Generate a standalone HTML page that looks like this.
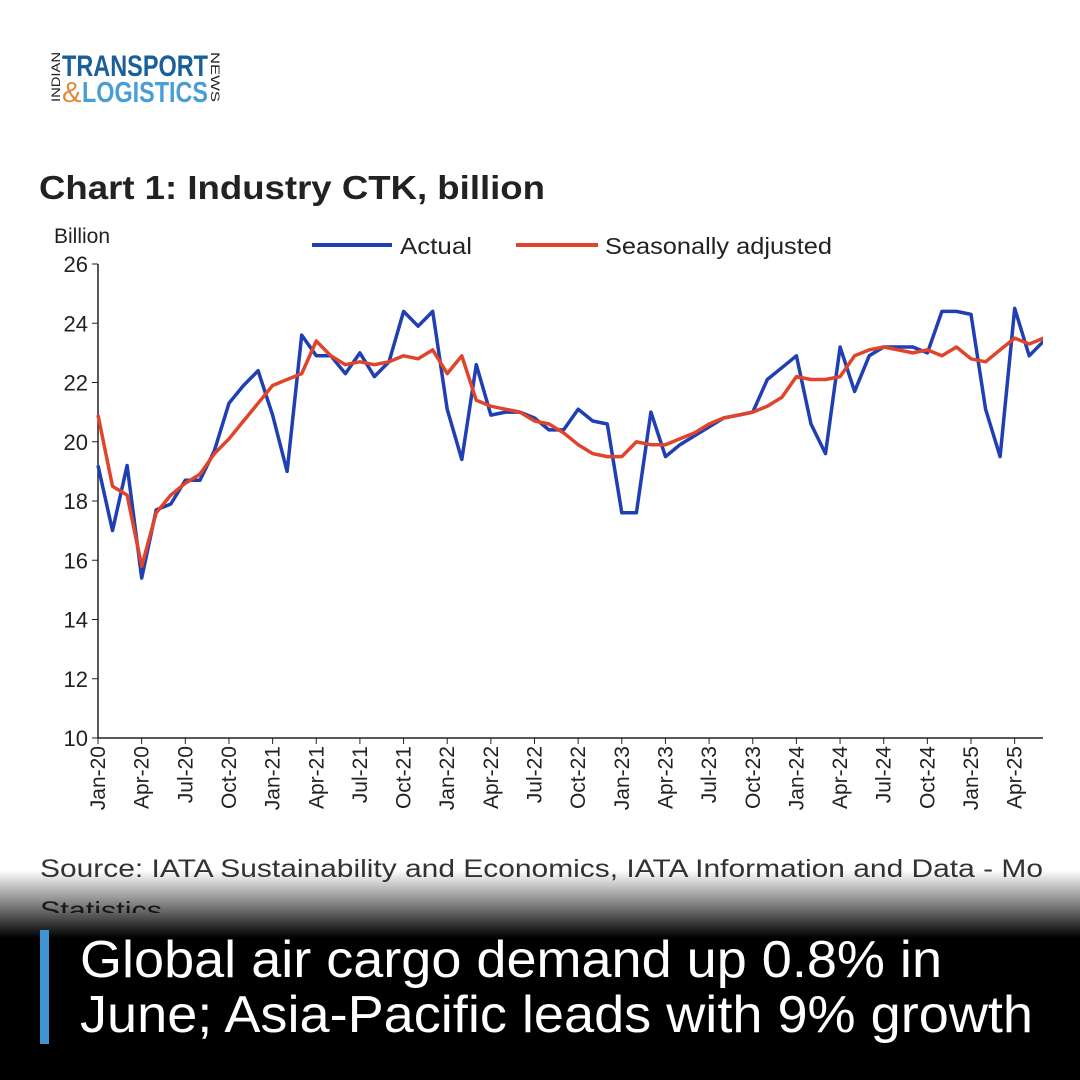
<!DOCTYPE html>
<html><head><meta charset="utf-8"><style>
html,body{margin:0;padding:0;width:1080px;height:1080px;overflow:hidden;background:#fff;font-family:"Liberation Sans",sans-serif}
.grad{position:absolute;left:0;top:870px;width:1080px;height:210px;background:linear-gradient(rgba(0,0,0,0) 0px,rgba(0,0,0,0.55) 38px,#000 68px,#000 100%);}
</style></head><body>
<svg id="s" width="1080" height="1080" style="position:absolute;left:0;top:0" xmlns="http://www.w3.org/2000/svg">
<text x="60" y="102" transform="rotate(-90 60 102)" font-size="12" fill="#222" textLength="50" lengthAdjust="spacingAndGlyphs">INDIAN</text>
<text x="62" y="76" font-weight="bold" font-size="30" fill="#1a5f9a" textLength="146" lengthAdjust="spacingAndGlyphs">TRANSPORT</text>
<text x="62" y="102" font-size="29" fill="#e08a3a">&amp;</text>
<text x="82" y="102" font-weight="bold" font-size="29" fill="#4a9ed6" textLength="126" lengthAdjust="spacingAndGlyphs">LOGISTICS</text>
<text x="211" y="52" transform="rotate(90 211 52)" font-size="12" fill="#222" textLength="50" lengthAdjust="spacingAndGlyphs">NEWS</text>
<text x="39" y="199" font-weight="bold" font-size="33" fill="#222" textLength="506" lengthAdjust="spacingAndGlyphs">Chart 1: Industry CTK, billion</text>
<text x="54" y="243" font-size="21" fill="#222">Billion</text>
<line x1="312" y1="245" x2="392" y2="245" stroke="#1f3fb3" stroke-width="4"/>
<text x="400" y="254" font-size="23" fill="#222" textLength="72" lengthAdjust="spacingAndGlyphs">Actual</text>
<line x1="516" y1="245" x2="598" y2="245" stroke="#e0452c" stroke-width="4"/>
<text x="605" y="254" font-size="23" fill="#222" textLength="227" lengthAdjust="spacingAndGlyphs">Seasonally adjusted</text>
<g id="ax"></g>
<text x="40" y="877" font-size="25" fill="#333" textLength="1003" lengthAdjust="spacingAndGlyphs">Source: IATA Sustainability and Economics, IATA Information and Data - Mo</text>
<clipPath id="st"><rect x="0" y="880" width="300" height="33"/></clipPath>
<text x="40" y="919" font-size="25" fill="#333" textLength="122" lengthAdjust="spacingAndGlyphs" clip-path="url(#st)">Statistics</text>
</svg>
<div class="grad"></div>
<div style="position:absolute;left:40px;top:930px;width:9px;height:114px;background:#3f95d4"></div>
<svg width="1080" height="1080" style="position:absolute;left:0;top:0">
<text x="80" y="977" font-size="52" fill="#fff" textLength="862" lengthAdjust="spacingAndGlyphs">Global air cargo demand up 0.8% in</text>
<text x="80" y="1032" font-size="52" fill="#fff" textLength="953" lengthAdjust="spacingAndGlyphs">June; Asia-Pacific leads with 9% growth</text>
</svg>
<script>
var A=[19.2,17.0,19.2,15.4,17.7,17.9,18.7,18.7,19.7,21.3,21.9,22.4,20.9,19.0,23.6,22.9,22.9,22.3,23.0,22.2,22.7,24.4,23.9,24.4,21.1,19.4,22.6,20.9,21.0,21.0,20.8,20.4,20.4,21.1,20.7,20.6,17.6,17.6,21.0,19.5,19.9,20.2,20.5,20.8,20.9,21.0,22.1,22.5,22.9,20.6,19.6,23.2,21.7,22.9,23.2,23.2,23.2,23.0,24.4,24.4,24.3,21.1,19.5,24.5,22.9,23.4,23.4];
var S=[20.9,18.5,18.2,15.8,17.6,18.2,18.6,18.9,19.6,20.1,20.7,21.3,21.9,22.1,22.3,23.4,22.9,22.6,22.7,22.6,22.7,22.9,22.8,23.1,22.3,22.9,21.4,21.2,21.1,21.0,20.7,20.6,20.3,19.9,19.6,19.5,19.5,20.0,19.9,19.9,20.1,20.3,20.6,20.8,20.9,21.0,21.2,21.5,22.2,22.1,22.1,22.2,22.9,23.1,23.2,23.1,23.0,23.1,22.9,23.2,22.8,22.7,23.1,23.5,23.3,23.5,23.4];
function X(i){return 98+i*14.55}function Y(v){return 738-(v-10)*29.625}
var h='<line x1="98" y1="264" x2="98" y2="738" stroke="#222" stroke-width="1.5"/><line x1="98" y1="738" x2="1043" y2="738" stroke="#222" stroke-width="1.5"/>';
for(var v=10;v<=26;v+=2){h+='<line x1="92" y1="'+Y(v)+'" x2="98" y2="'+Y(v)+'" stroke="#222"/><text x="88" y="'+(Y(v)+8)+'" font-size="22" text-anchor="end" fill="#222">'+v+'</text>';}
var m=['Jan','Apr','Jul','Oct'];
for(var i=0;i<=64;i+=3){var x=X(i);h+='<line x1="'+x+'" y1="738" x2="'+x+'" y2="744" stroke="#222"/><text x="'+(x+7)+'" y="746" font-size="21" text-anchor="end" fill="#222" transform="rotate(-90 '+(x+7)+' 746)">'+m[(i/3)%4]+'-'+(20+Math.floor(i/12))+'</text>';}
function P(d,c){var p=d.map(function(v,i){return X(i).toFixed(1)+','+Y(v).toFixed(1)}).join(' ');return '<polyline points="'+p+'" fill="none" stroke="'+c+'" stroke-width="3.5" stroke-linejoin="round"/>';}
h+='<g clip-path="url(#c)">'+P(A,'#1f3fb3')+P(S,'#e0452c')+'</g><clipPath id="c"><rect x="90" y="250" width="953" height="500"/></clipPath>';
document.getElementById('ax').innerHTML=h;
</script>
</body></html>
